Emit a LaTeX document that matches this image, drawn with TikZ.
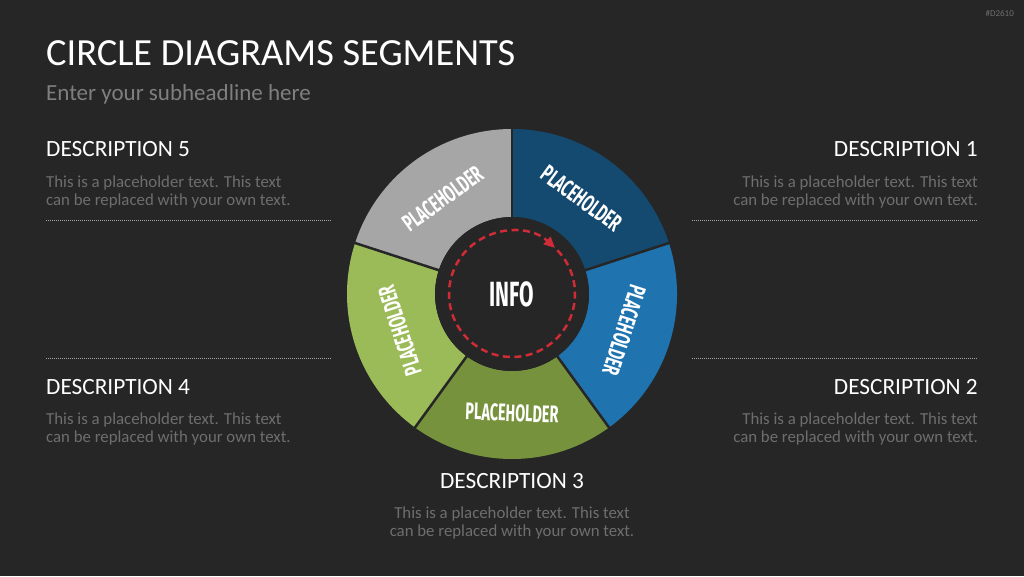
\documentclass[tikz,border=0pt]{standalone}
\usepackage{fontspec}
\setmainfont{Carlito}
\newfontfamily\condfont[FakeStretch=0.6]{Fira Sans}
\usetikzlibrary{arrows.meta, positioning}

\definecolor{bg}{HTML}{262626}
\definecolor{subgrey}{HTML}{7F7F7F}
\definecolor{bodygrey}{HTML}{6E6E6E}
\definecolor{dotgrey}{HTML}{A6A6A6}
\definecolor{segdarkblue}{HTML}{154A70}
\definecolor{seglightblue}{HTML}{1F74B0}
\definecolor{segdarkgreen}{HTML}{77923C}
\definecolor{seglightgreen}{HTML}{9BBB59}
\definecolor{seggrey}{HTML}{A6A6A6}
\definecolor{ringred}{HTML}{D02C38}

\begin{document}
\begin{tikzpicture}[
    x=1pt, y=1pt,
    >={Triangle[length=11pt, width=10pt]},
    every node/.style={inner sep=0pt},
    headline/.style={font=\fontsize{38.4}{41}\selectfont, text=white, anchor=base west},
    subline/.style={font=\fontsize{23}{26}\selectfont, text=subgrey, anchor=base west},
    deschead/.style={font=\fontsize{23.3}{26}\selectfont, text=white},
    descbody/.style={font=\fontsize{16.8}{18.5}\selectfont, text=bodygrey},
    dotline/.style={draw=dotgrey, line width=1pt, dash pattern=on 1pt off 1pt},
    gapline/.style={draw=bg, line width=2.5pt},
    seglabel/.style={font=\condfont\bfseries\fontsize{24}{24}\selectfont, text=white},
    redring/.style={draw=ringred, line width=2.5pt, dash pattern=on 7pt off 4.5pt, ->}
]

% Hintergrund
\fill[bg] (0,0) rectangle (1024,576);
\node[font=\fontsize{9}{10}\selectfont, text=bodygrey, anchor=east] (tag) at (1014,563) {\#D2610};

% Titel
\node[headline] (title) at (46,510) {CIRCLE DIAGRAMS SEGMENTS};
\node[subline] (subtitle) at (46,475) {Enter your subheadline here};

% Kreis
\begin{scope}[shift={(512,282)}]
\fill[segdarkblue]   (90:165)  arc[start angle=90,  end angle=18,   radius=165] -- (18:77)   arc[start angle=18,   end angle=90,  radius=77] -- cycle;
\fill[seglightblue]  (18:165)  arc[start angle=18,  end angle=-54,  radius=165] -- (-54:77)  arc[start angle=-54,  end angle=18,  radius=77] -- cycle;
\fill[segdarkgreen]  (-54:165) arc[start angle=-54, end angle=-126, radius=165] -- (-126:77) arc[start angle=-126, end angle=-54, radius=77] -- cycle;
\fill[seglightgreen] (-126:165) arc[start angle=-126, end angle=-198, radius=165] -- (162:77) arc[start angle=162,  end angle=234, radius=77] -- cycle;
\fill[seggrey]       (162:165) arc[start angle=162, end angle=90,   radius=165] -- (90:77)   arc[start angle=90,   end angle=162, radius=77] -- cycle;

\draw[gapline] (90:76)   -- (90:166);
\draw[gapline] (18:76)   -- (18:166);
\draw[gapline] (-54:76)  -- (-54:166);
\draw[gapline] (-126:76) -- (-126:166);
\draw[gapline] (162:76)  -- (162:166);
\fill[bg] (0,0) circle (77);

\node[seglabel, rotate=-36]  (lbl1) at (54:118)   {PLACEHOLDER};
\node[seglabel, rotate=-108] (lbl2) at (-18:118)  {PLACEHOLDER};
\node[seglabel, rotate=-2]   (lbl3) at (-90:119)  {PLACEHOLDER};
\node[seglabel, rotate=108]  (lbl4) at (-162:118) {PLACEHOLDER};
\node[seglabel, rotate=36]   (lbl5) at (126:118)  {PLACEHOLDER};

\draw[redring] (44:63) arc[start angle=44, end angle=-313, radius=63];
\node[font=\condfont\bfseries\fontsize{35}{35}\selectfont, text=white] (info) at (0,0) {INFO};
\end{scope}

% Beschreibungen links
\node[deschead, anchor=base west] (d5head) at (46,419) {DESCRIPTION 5};
\node[descbody, below=18pt of d5head.south west, anchor=north west, align=left] (d5text)
    {This is a placeholder text. This text\\can be replaced with your own text.};
\draw[dotline] (46,355) -- (331,355);

\draw[dotline] (46,218) -- (331,218);
\node[deschead, anchor=base west] (d4head) at (46,182) {DESCRIPTION 4};
\node[descbody, below=18pt of d4head.south west, anchor=north west, align=left] (d4text)
    {This is a placeholder text. This text\\can be replaced with your own text.};

% Beschreibungen rechts
\node[deschead, anchor=base east] (d1head) at (978,419) {DESCRIPTION 1};
\node[descbody, below=18pt of d1head.south east, anchor=north east, align=right] (d1text)
    {This is a placeholder text. This text\\can be replaced with your own text.};
\draw[dotline] (692,355) -- (978,355);

\draw[dotline] (692,218) -- (978,218);
\node[deschead, anchor=base east] (d2head) at (978,182) {DESCRIPTION 2};
\node[descbody, below=18pt of d2head.south east, anchor=north east, align=right] (d2text)
    {This is a placeholder text. This text\\can be replaced with your own text.};

% Beschreibung unten
\node[deschead, anchor=base] (d3head) at (512,88) {DESCRIPTION 3};
\node[descbody, below=18pt of d3head, align=center] (d3text)
    {This is a placeholder text. This text\\can be replaced with your own text.};

\end{tikzpicture}
\end{document}
